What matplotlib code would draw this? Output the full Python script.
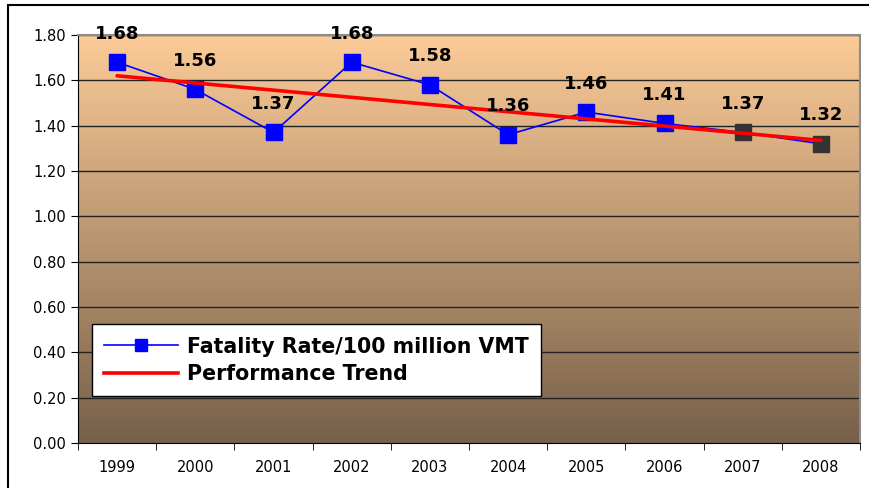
import matplotlib.pyplot as plt
import numpy as np
from matplotlib.colors import LinearSegmentedColormap
from matplotlib.patches import Rectangle

years = ['1999', '2000', '2001', '2002', '2003', '2004', '2005', '2006', '2007', '2008']
rates = [1.68, 1.56, 1.37, 1.68, 1.58, 1.36, 1.46, 1.41, 1.37, 1.32]
# trend line end values (1999, 2008)
trend = [1.62, 1.335]
y_ticks = [0.0, 0.2, 0.4, 0.6, 0.8, 1.0, 1.2, 1.4, 1.6, 1.8]

plt.rcParams['font.family'] = ['DejaVu Sans']

fig = plt.figure(figsize=(8.69, 4.88), dpi=100)
ax = fig.add_axes([78 / 869, 1 - 443 / 488, 782 / 869, 408 / 488])

x = np.arange(len(years))
ax.set_xlim(-0.5, len(years) - 0.5)
ax.set_ylim(0, 1.8)

# gradient background of the plot area
cmap = LinearSegmentedColormap.from_list('bg', ['#77604a', '#fccb98'])
grad = np.linspace(0, 1, 256).reshape(-1, 1)
ax.imshow(grad, cmap=cmap, aspect='auto', origin='lower',
          extent=[-0.5, len(years) - 0.5, 0, 1.8], zorder=0)

for t in y_ticks[1:]:
    ax.axhline(t, color='#222222', lw=1.0, zorder=1)

ax.plot(x, rates, color='#0000ff', lw=1.2, zorder=3)
colors = ['#0000ff'] * 8 + ['#333333'] * 2
for xi, yi, c in zip(x, rates, colors):
    ax.plot(xi, yi, 's', color=c, markersize=11, zorder=4)
ax.plot([x[0], x[-1]], trend, color='#ff0000', lw=2.6, zorder=5,
        solid_capstyle='round')

for xi, yi in zip(x, rates):
    ax.annotate('%.2f' % yi, (xi, yi), xytext=(0, 20.5), textcoords='offset points',
                ha='center', va='center', fontsize=13, fontweight='bold', zorder=6)

# legend proxies
h1, = ax.plot([], [], color='#0000ff', lw=1.2, marker='s', markersize=8)
h2, = ax.plot([], [], color='#ff0000', lw=2.6)
leg = ax.legend([h1, h2], ['Fatality Rate/100 million VMT', 'Performance Trend'],
                loc='lower left', bbox_to_anchor=(0.018, 0.115), borderaxespad=0,
                fancybox=False, framealpha=1, edgecolor='black',
                prop={'weight': 'bold', 'size': 14.8},
                handlelength=3.6, handletextpad=0.4, borderpad=0.6, labelspacing=0.35)
leg.get_frame().set_linewidth(1.0)
leg.set_zorder(10)

ax.set_yticks(y_ticks)
ax.set_yticklabels(['%.2f' % t for t in y_ticks], fontsize=10.5)
ax.set_xticks(x)
ax.set_xticklabels(years, fontsize=10.5)
ax.set_xticks(np.arange(-0.5, len(years)), minor=True)
ax.tick_params(axis='x', which='major', length=0, pad=12)
ax.tick_params(axis='x', which='minor', length=5, direction='out', color='black')
ax.tick_params(axis='y', length=5, direction='out', color='black')

ax.spines['left'].set_color('black')
ax.spines['bottom'].set_color('black')
ax.spines['top'].set_color('#8c8c8c')
ax.spines['right'].set_color('#8c8c8c')
ax.spines['top'].set_linewidth(1.5)
ax.spines['right'].set_linewidth(1.5)

# outer chart border
fig.patches.append(Rectangle((8 / 869, -0.1), 1.2, 1 - 5 / 488 + 0.1,
                             transform=fig.transFigure, fill=False,
                             edgecolor='black', lw=1.5))

fig.savefig('out.png', dpi=100)
